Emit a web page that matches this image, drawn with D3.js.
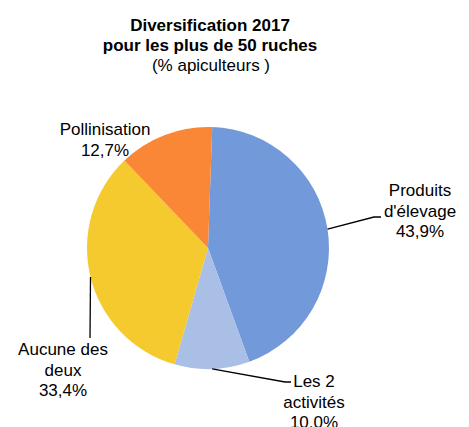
<!DOCTYPE html>
<html lang="fr">
<head>
	<meta charset="UTF-8">
	<title>Diversification 2017</title>
	<script src="https://cdnjs.cloudflare.com/ajax/libs/d3/7.8.5/d3.min.js"></script>
	<style>
		body{ margin:0; background:#fff; }
		text{ font-family: "Liberation Sans", Arial, sans-serif; fill:#000; }
		.title{ font-size:17px; font-weight:bold; }
		.subtitle{ font-size:17px; }
		.label{ font-size:17px; }
		.leader{ fill:none; stroke:#000; stroke-width:1.3; }
	</style>
</head>
<body>
	<div id="main"></div>
	<script>
		// data
		var categories = ["Produits d'élevage", "Les 2 activités", "Aucune des deux", "Pollinisation"];
		var values = [43.9, 10.0, 33.4, 12.7];
		var labelLines = [["Produits", "d'élevage", "43,9%"], ["Les 2", "activités", "10,0%"], ["Aucune des", "deux", "33,4%"], ["Pollinisation", "12,7%"]];
		var colours = ["#7299D9", "#A9BFE6", "#F4CA2F", "#FA8736"];

		// label layout: text block centre / first baseline, leader bend points (null = no line)
		var labelPos = [
			{x:420, y:196, bend:[374,217], end:[381,217]},
			{x:314, y:387, bend:[285,382], end:[291,382]},
			{x:63, y:355, bend:[90,338], end:null},
			{x:105, y:135, bend:null, end:null}
		];

		var width = 469, height = 427,
			cx = 208, cy = 248, radius = 121,
			lineGap = 20.6;

		var svg = d3.select("#main").append("svg")
			.attr("width", width)
			.attr("height", height);

		var title = svg.append("g");
		title.append("text").attr("class","title").attr("x",210).attr("y",31).attr("text-anchor","middle").text("Diversification 2017");
		title.append("text").attr("class","title").attr("x",210).attr("y",51).attr("text-anchor","middle").text("pour les plus de 50 ruches");
		title.append("text").attr("class","subtitle").attr("x",211).attr("y",71).attr("text-anchor","middle").text("(% apiculteurs )");

		var startA = 2 * Math.PI / 180;
		var pie = d3.pie().sort(null).startAngle(startA).endAngle(startA + 2*Math.PI);
		var arcs = pie(values);

		var arc = d3.arc().innerRadius(0).outerRadius(radius);

		var g = svg.append("g").attr("transform", "translate(" + cx + "," + cy + ")");

		g.selectAll("path.slice")
			.data(arcs)
			.enter()
			.append("path")
			.attr("class","slice")
			.attr("d", arc)
			.attr("fill", function(d,i){ return colours[i]; });

		// leader lines start on the edge at the mid angle
		arcs.forEach(function(d,i){
			var p = labelPos[i];
			if(!p.bend) return;
			var mid = (d.startAngle + d.endAngle)/2;
			var sx = cx + radius*Math.sin(mid), sy = cy - radius*Math.cos(mid);
			var pts = [[sx,sy], p.bend];
			if(p.end) pts.push(p.end);
			svg.append("path").attr("class","leader").attr("d", d3.line()(pts));
		});

		labelLines.forEach(function(lines,i){
			var p = labelPos[i];
			var t = svg.append("text").attr("class","label").attr("text-anchor","middle");
			lines.forEach(function(l,j){
				t.append("tspan").attr("x", p.x).attr("y", p.y + j*lineGap).text(l);
			});
		});
	</script>
</body>
</html>
